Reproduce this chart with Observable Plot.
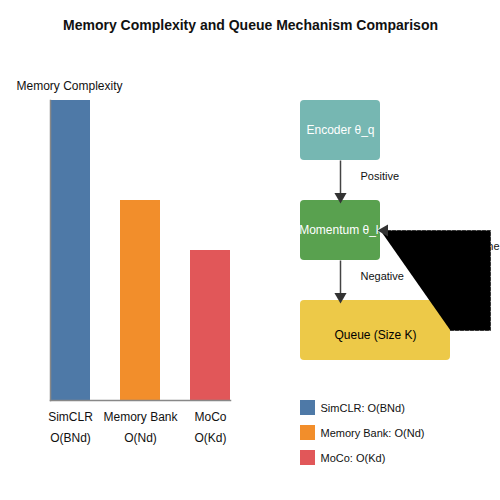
<!DOCTYPE html>
<html>
<head>
<meta charset="utf-8">
<script src="https://cdn.jsdelivr.net/npm/d3@7"></script>
<script src="https://cdn.jsdelivr.net/npm/@observablehq/plot@0.6"></script>
<style>
  html, body { margin: 0; padding: 0; background: #fff; }
  #wrap { position: relative; width: 500px; height: 500px; font-family: "Liberation Sans", Arial, sans-serif; }
  #wrap > svg { position: absolute; left: 0; top: 0; }
</style>
</head>
<body>
<div id="wrap"></div>
<script>
// ---- data ----
const title = "Memory Complexity and Queue Mechanism Comparison";
const yLabel = "Memory Complexity";
const categories = ["SimCLR", "Memory Bank", "MoCo"];
const complexity = ["O(BNd)", "O(Nd)", "O(Kd)"];
const memory = [3, 2, 1.5];
const barColors = ["#4e79a7", "#f28e2b", "#e15759"];
const nodeNames = ["Encoder θ_q", "Momentum θ_k", "Queue (Size K)"];
const nodeColors = ["#76b7b2", "#59a14f", "#edc948"];
const nodeTextColors = ["white", "white", "black"];
const edgeLabels = ["Positive", "Negative"];
const loopLabel = "Cache";

// ---- bar chart ----
const bars = categories.map((c, i) => ({name: c, value: memory[i], cx: complexity[i]}));
const font = "Liberation Sans, Arial, sans-serif";

const barChart = Plot.plot({
  width: 500, height: 500,
  marginLeft: 50, marginRight: 270, marginTop: 100, marginBottom: 100,
  style: {fontFamily: font, background: "transparent"},
  x: {domain: categories, paddingInner: 3 / 7, paddingOuter: 0, round: false, axis: null},
  y: {domain: [0, 3], axis: null},
  color: {domain: categories, range: barColors},
  marks: [
    Plot.barY(bars, {x: "name", y: "value", fill: "name"}),
    Plot.frame({anchor: "left", stroke: "#888", strokeWidth: 1.5}),
    Plot.frame({anchor: "bottom", stroke: "#888", strokeWidth: 1.5}),
    Plot.text(bars, {x: "name", text: "name", frameAnchor: "bottom", dy: 20, fontSize: 12, fill: "#111"}),
    Plot.text(bars, {x: "name", text: "cx", frameAnchor: "bottom", dy: 41, fontSize: 12, fill: "#111"}),
    Plot.text([yLabel], {frameAnchor: "top-left", textAnchor: "start", dx: -34, dy: -19, fontSize: 12, fill: "#111"})
  ]
});

// ---- diagram (layout geometry) ----
const boxes = [
  {x1: 300, x2: 380, y1: 100, y2: 160, ty: 130},
  {x1: 300, x2: 380, y1: 200, y2: 260, ty: 230},
  {x1: 300, x2: 450, y1: 300, y2: 360, ty: 335}
].map((b, i) => ({...b, name: nodeNames[i], fill: nodeColors[i], tc: nodeTextColors[i]}));
const links = [
  {x1: 340, y1: 160, x2: 340, y2: 197, lx: 360, ly: 176, label: edgeLabels[0]},
  {x1: 340, y1: 260, x2: 340, y2: 297, lx: 360, ly: 276, label: edgeLabels[1]}
];
const loop = [[450, 330], [490, 330], [490, 230], [380, 230]].map(([x, y]) => ({x, y}));
const legend = categories.map((c, i) => ({label: `${c}: ${complexity[i]}`, fill: barColors[i], y: 400 + i * 25}));

const diagram = Plot.plot({
  width: 500, height: 500, margin: 0,
  style: {fontFamily: font, background: "transparent"},
  x: {domain: [0, 500], range: [0, 500], axis: null},
  y: {domain: [0, 500], range: [0, 500], axis: null},
  marks: [
    Plot.text([title], {x: () => 250, y: () => 25, fontSize: 14, fontWeight: "bold", fill: "#111"}),
    Plot.rect(boxes, {x1: "x1", x2: "x2", y1: "y1", y2: "y2", fill: "fill", rx: 4}),
    Plot.text(boxes, {x: d => (d.x1 + d.x2) / 2, y: "ty", text: "name", fill: "tc", fontSize: 12}),
    Plot.link(links, {x1: "x1", y1: "y1", x2: "x2", y2: "y2", stroke: "#444", strokeWidth: 1.5}),
    Plot.dot(links, {x: "x2", y: d => d.y2 - 1, symbol: "triangle", r: 4.5, rotate: 180, fill: "#333", stroke: null}),
    Plot.text(links, {x: "lx", y: "ly", text: "label", textAnchor: "start", fontSize: 11, fill: "#111"}),
    Plot.text([loopLabel], {x: () => 499, y: () => 246, textAnchor: "end", fontSize: 11, fill: "#111"}),
    Plot.line(loop, {x: "x", y: "y", fill: "black", stroke: "#333", strokeWidth: 1, strokeDasharray: "3,2"}),
    Plot.dot([loop[3]], {x: d => d.x + 4, y: "y", symbol: "triangle", r: 4.5, rotate: -90, fill: "#333", stroke: null}),
    Plot.rect(legend, {x1: () => 300, x2: () => 315, y1: "y", y2: d => d.y + 15, fill: "fill"}),
    Plot.text(legend, {x: () => 320, y: d => d.y + 8, text: "label", textAnchor: "start", fontSize: 11, fill: "#111"})
  ]
});

const wrap = document.getElementById("wrap");
wrap.appendChild(barChart);
wrap.appendChild(diagram);
</script>
</body>
</html>
